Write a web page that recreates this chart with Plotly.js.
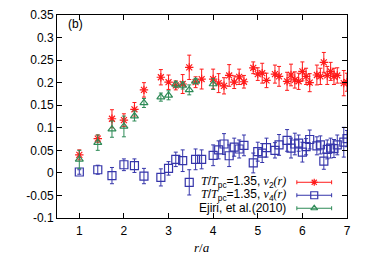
<!DOCTYPE html>
<html>
<head>
<meta charset="utf-8">
<script src="https://cdn.plot.ly/plotly-3.0.1.min.js"></script>
<style>html,body{margin:0;padding:0;background:#fff;}#chart{width:370px;height:259px;}</style>
</head>
<body>
<div id="chart"></div>
<script>
// r/a positions (lattice distances)
const r_all = [1, 1.414, 1.732, 2, 2.236, 2.449, 2.828, 3, 3.162, 3.317, 3.464, 3.606, 3.742, 4, 4.123, 4.243, 4.359, 4.472, 4.583, 4.690, 4.899, 5, 5.099, 5.196, 5.385, 5.477, 5.657, 5.745, 5.831, 5.916, 6, 6.083, 6.164, 6.325, 6.403, 6.481, 6.557, 6.633, 6.708, 6.782, 6.928, 7];
// v2(r), T/Tpc = 1.35
const v2_vals = [0.040, 0.076, 0.120, 0.117, 0.141, 0.184, 0.212, 0.201, 0.194, 0.197, 0.234, 0.201, 0.208, 0.208, 0.199, 0.193, 0.216, 0.201, 0.213, 0.202, 0.233, 0.219, 0.221, 0.205, 0.219, 0.214, 0.203, 0.217, 0.206, 0.203, 0.225, 0.214, 0.200, 0.217, 0.214, 0.245, 0.216, 0.225, 0.214, 0.216, 0.199, 0.201];
const v2_errs = [0.011, 0.008, 0.020, 0.014, 0.015, 0.016, 0.017, 0.016, 0.010, 0.021, 0.027, 0.012, 0.022, 0.022, 0.021, 0.018, 0.024, 0.014, 0.017, 0.014, 0.013, 0.014, 0.022, 0.016, 0.020, 0.022, 0.020, 0.024, 0.018, 0.018, 0.021, 0.018, 0.020, 0.022, 0.018, 0.022, 0.020, 0.020, 0.018, 0.017, 0.028, 0.020];
// v4(r), T/Tpc = 1.35
const v4_vals = [0.002, 0.007, -0.006, 0.018, 0.016, -0.007, -0.010, 0.010, 0.030, 0.027, -0.021, 0.030, 0.030, 0.039, 0.051, 0.064, 0.038, 0.057, 0.053, 0.061, 0.022, 0.047, 0.044, 0.056, 0.050, 0.062, 0.072, 0.055, 0.064, 0.066, 0.046, 0.058, 0.074, 0.060, 0.062, 0.026, 0.052, 0.055, 0.054, 0.062, 0.068, 0.076];
const v4_errs = [0.005, 0.010, 0.018, 0.013, 0.015, 0.017, 0.019, 0.015, 0.016, 0.024, 0.028, 0.023, 0.021, 0.023, 0.020, 0.023, 0.024, 0.020, 0.020, 0.023, 0.022, 0.021, 0.021, 0.021, 0.017, 0.023, 0.024, 0.022, 0.024, 0.018, 0.022, 0.018, 0.021, 0.020, 0.020, 0.018, 0.021, 0.022, 0.020, 0.022, 0.033, 0.018];
// Ejiri, et al. (2010)
const ej_r = [1, 1.414, 1.732, 2, 2.236, 2.449, 2.828, 3, 3.162, 3.317, 3.464, 3.606, 4];
const ej_vals = [0.030, 0.067, 0.097, 0.103, 0.126, 0.155, 0.168, 0.172, 0.196, 0.194, 0.184, 0.203, 0.197];
const ej_errs = [0.020, 0.017, 0.018, 0.023, 0.011, 0.010, 0.009, 0.010, 0.007, 0.008, 0.011, 0.006, 0.012];
// tick labels
const xTicks = [1, 2, 3, 4, 5, 6, 7];
const yTicks = [-0.1, -0.05, 0, 0.05, 0.1, 0.15, 0.2, 0.25, 0.3, 0.35];
const yTickText = ['-0.1', '-0.05', '0', '0.05', '0.1', '0.15', '0.2', '0.25', '0.3', '0.35'];
const xTitle = '<i>r</i>/<i>a</i>';
const legendNames = [
  '<span style="font-family:Liberation Serif;font-style:italic">T</span>/<span style="font-family:Liberation Serif;font-style:italic">T</span><sub>pc</sub>=1.35, <span style="font-family:Liberation Serif;font-style:italic">v</span><sub>2</sub><span style="font-family:Liberation Serif;font-style:italic">(r)</span>',
  '<span style="font-family:Liberation Serif;font-style:italic">T</span>/<span style="font-family:Liberation Serif;font-style:italic">T</span><sub>pc</sub>=1.35, <span style="font-family:Liberation Serif;font-style:italic">v</span><sub>4</sub><span style="font-family:Liberation Serif;font-style:italic">(r)</span>',
  'Ejiri, et al.(2010)'
];

const RED = '#ff1a1a', BLUE = '#3535aa', GREEN = '#2e8b57';
const colors = [RED, BLUE, GREEN];
const symbols = ['asterisk-open', 'square-open', 'triangle-up-open'];
const sizes = [7, 8, 7];

function mk(x, y, e, i) {
  return {
    type: 'scatter', mode: 'markers', x: x, y: y, showlegend: false,
    marker: {symbol: symbols[i], size: sizes[i], color: colors[i], line: {color: colors[i], width: 1.2}},
    error_y: {type: 'data', array: e, visible: true, color: colors[i], thickness: 1, width: 2},
    xaxis: 'x', yaxis: 'y'
  };
}

const traces = [
  mk(r_all, v2_vals, v2_errs, 0),
  mk(r_all, v4_vals, v4_errs, 1),
  mk(ej_r, ej_vals, ej_errs, 2)
];

// legend samples on an overlay axis in [0,1] units
const legY = [0.176, 0.112, 0.048];
const annotations = [];
for (let i = 0; i < 3; i++) {
  traces.push({
    type: 'scatter', mode: 'markers', x: [0.887], y: [legY[i]], showlegend: false,
    xaxis: 'x2', yaxis: 'y2', hoverinfo: 'skip',
    marker: {symbol: symbols[i], size: sizes[i] - 1, color: colors[i], line: {color: colors[i], width: 1.2}},
    error_x: {type: 'data', array: [0.06], visible: true, color: colors[i], thickness: 1, width: 2}
  });
  annotations.push({
    xref: 'paper', yref: 'paper', x: 0.797, y: legY[i], xanchor: 'right', yanchor: 'middle',
    text: legendNames[i], showarrow: false, font: {size: 12, color: '#000', family: 'Liberation Sans, Arial, sans-serif'}
  });
}
annotations.push({
  xref: 'paper', yref: 'paper', x: 0.03, y: 0.955, xanchor: 'left', yanchor: 'middle',
  text: '(b)', showarrow: false, font: {size: 12, color: '#000', family: 'Liberation Sans, Arial, sans-serif'}
});
// x-axis title
annotations.push({
  xref: 'paper', yref: 'paper', x: 0.5, y: -0.147, xanchor: 'center', yanchor: 'middle',
  text: xTitle, showarrow: false, font: {size: 13, color: '#000', family: 'Liberation Serif, Times New Roman, serif'}
});

const layout = {
  width: 370, height: 259,
  margin: {l: 57, r: 23, t: 15, b: 41, pad: 0},
  paper_bgcolor: '#fff', plot_bgcolor: '#fff',
  font: {family: 'Liberation Sans, Arial, sans-serif', size: 12, color: '#000'},
  showlegend: false,
  xaxis: {
    range: [0.5, 7], tickvals: xTicks, ticks: 'inside', ticklen: 5, tickcolor: '#000',
    showline: true, linecolor: '#000', linewidth: 1, mirror: 'ticks', showgrid: false, zeroline: false,
    tickfont: {size: 12}, ticklabelstandoff: 2, automargin: false
  },
  yaxis: {
    range: [-0.1, 0.35], tickvals: yTicks, ticktext: yTickText, ticks: 'inside', ticklen: 5, tickcolor: '#000',
    showline: true, linecolor: '#000', linewidth: 1, mirror: 'ticks', showgrid: false, zeroline: false,
    tickfont: {size: 12}, automargin: false
  },
  xaxis2: {overlaying: 'x', range: [0, 1], visible: false, fixedrange: true},
  yaxis2: {overlaying: 'y', range: [0, 1], visible: false, fixedrange: true},
  annotations: annotations
};

Plotly.newPlot('chart', traces, layout, {staticPlot: true, displayModeBar: false});
</script>
</body>
</html>
